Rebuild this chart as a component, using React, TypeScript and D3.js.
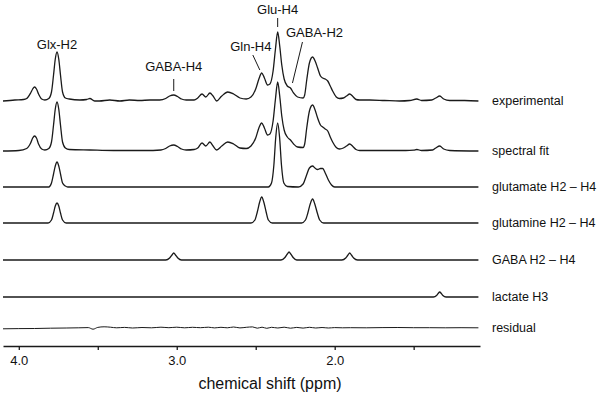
import React, { useEffect, useRef } from 'react';
import * as d3 from 'd3';

type Pt = [number, number];

// trace names, top to bottom
const traceNames = [
  'experimental',
  'spectral fit',
  'glutamate H2 \u2013 H4',
  'glutamine H2 \u2013 H4',
  'GABA H2 \u2013 H4',
  'lactate H3',
  'residual',
];

// [ppm, intensity]
const experimental: Pt[] = [
  [4.1, 0], [4.025, 1], [3.97, 1.5], [3.95, 2.5], [3.925, 8], [3.912, 12], [3.9, 14],
  [3.888, 12], [3.875, 7], [3.855, 2], [3.835, 1], [3.81, 2.5], [3.793, 9], [3.78, 26],
  [3.769, 42], [3.758, 49], [3.747, 42], [3.736, 26], [3.723, 9], [3.705, 3], [3.68, 2],
  [3.614, 1], [3.57, 1.5], [3.55, 2.5], [3.52, 0], [3.49, 0], [3.424, 1], [3.36, 0], [3.3, 1],
  [3.234, 0.5], [3.17, 1], [3.108, 1], [3.07, 2.5], [3.045, 5], [3.019, 6], [2.995, 4.5],
  [2.97, 2], [2.94, 1], [2.89, 1], [2.867, 3], [2.84, 7], [2.816, 4], [2.79, 8], [2.77, 5],
  [2.747, 0], [2.715, 5], [2.677, 9], [2.64, 7], [2.6, 3], [2.56, 2], [2.53, 4], [2.5, 12],
  [2.48, 22], [2.462, 28], [2.445, 23], [2.425, 16], [2.41, 17], [2.39, 30], [2.375, 52],
  [2.361, 69], [2.348, 55], [2.335, 36], [2.32, 22], [2.3, 15], [2.28, 13], [2.26, 8],
  [2.235, 4], [2.2, 3], [2.19, 6], [2.177, 21], [2.16, 38], [2.14, 44], [2.124, 40],
  [2.108, 33], [2.09, 25], [2.076, 23], [2.06, 22], [2.044, 20], [2.028, 15], [2.013, 10],
  [1.99, 4], [1.97, 2.5], [1.945, 3], [1.925, 5], [1.905, 7], [1.885, 4.5], [1.865, 1.5],
  [1.842, 1], [1.778, 1], [1.684, 0.5], [1.589, 0], [1.525, 0.5], [1.48, 2], [1.45, 0.5],
  [1.386, 1], [1.36, 3], [1.335, 5], [1.31, 2], [1.272, 0.5], [1.177, 0.5], [1.09, 0],
];

const spectralFit: Pt[] = [
  [4.1, 0], [4.0, 0.5], [3.95, 2.5], [3.925, 8], [3.912, 13], [3.9, 15], [3.888, 13],
  [3.875, 7], [3.855, 2], [3.835, 1], [3.81, 2.5], [3.793, 9], [3.78, 26], [3.769, 42],
  [3.758, 49], [3.747, 42], [3.736, 26], [3.723, 9], [3.705, 3], [3.68, 1.5], [3.55, 1],
  [3.4, 0.5], [3.2, 0.5], [3.1, 1], [3.07, 2.5], [3.045, 5], [3.019, 6], [2.995, 4.5],
  [2.97, 2], [2.94, 1], [2.89, 1.5], [2.867, 3], [2.84, 8], [2.816, 5], [2.79, 9], [2.77, 5],
  [2.747, 1], [2.715, 5], [2.677, 9], [2.64, 7], [2.6, 3], [2.56, 2.5], [2.53, 5], [2.5, 13],
  [2.48, 23], [2.462, 28], [2.445, 23], [2.425, 16], [2.41, 17], [2.39, 30], [2.375, 52],
  [2.361, 69], [2.348, 55], [2.335, 35], [2.32, 21], [2.3, 14], [2.28, 11], [2.26, 7],
  [2.235, 4], [2.2, 3.5], [2.19, 7], [2.177, 23], [2.16, 40], [2.14, 46], [2.124, 41],
  [2.108, 33], [2.09, 26], [2.076, 24], [2.06, 22], [2.044, 20], [2.028, 14], [2.013, 9],
  [1.99, 3.5], [1.97, 2], [1.945, 3], [1.925, 5], [1.905, 7], [1.885, 4.5], [1.865, 1.5],
  [1.842, 0.5], [1.7, 0.5], [1.55, 0.5], [1.5, 0.8], [1.48, 1.5], [1.45, 0.5], [1.38, 1],
  [1.36, 3], [1.335, 5], [1.31, 2], [1.272, 0.5], [1.09, 0],
];

const glutamate: Pt[] = [
  [4.1, 0], [3.81, 0], [3.793, 4], [3.78, 13], [3.769, 21], [3.758, 25], [3.747, 21],
  [3.736, 13], [3.723, 4], [3.705, 1], [3.69, 0], [2.42, 0], [2.4, 4], [2.385, 22],
  [2.373, 50], [2.361, 64], [2.349, 50], [2.337, 22], [2.322, 4], [2.3, 0.5], [2.23, 0],
  [2.2, 3], [2.18, 11], [2.16, 19], [2.14, 21], [2.125, 19], [2.108, 17.5], [2.09, 18.5],
  [2.076, 18.5], [2.06, 14], [2.04, 7], [2.02, 2], [2.0, 0], [1.09, 0],
];

const glutamine: Pt[] = [
  [4.1, 0], [3.815, 0], [3.793, 3], [3.78, 10], [3.769, 17], [3.758, 20], [3.747, 17],
  [3.736, 10], [3.723, 3], [3.7, 0], [2.53, 0], [2.505, 3], [2.49, 11], [2.475, 21],
  [2.462, 26], [2.449, 21], [2.434, 11], [2.42, 3], [2.395, 0], [2.21, 0], [2.185, 3],
  [2.17, 10], [2.155, 19], [2.14, 24], [2.126, 19], [2.11, 10], [2.095, 3], [2.07, 0],
  [1.09, 0],
];

const gaba: Pt[] = [
  [4.1, 0], [3.07, 0], [3.045, 2], [3.03, 5], [3.019, 7], [3.008, 5], [2.993, 2], [2.97, 0],
  [2.34, 0], [2.315, 2.5], [2.3, 6], [2.289, 8], [2.278, 6], [2.263, 2.5], [2.24, 0],
  [1.955, 0], [1.93, 2], [1.916, 5], [1.905, 7], [1.894, 5], [1.88, 2], [1.855, 0],
  [1.09, 0],
];

const lactate: Pt[] = [
  [4.1, 0], [1.375, 0], [1.355, 1.5], [1.345, 3.5], [1.335, 5], [1.325, 3.5], [1.315, 1.5],
  [1.295, 0], [1.09, 0],
];

const residual: Pt[] = [
  [4.1, -0.8], [4.0, -0.6], [3.9, -0.5], [3.8, -0.2], [3.7, 0], [3.62, 0.2], [3.56, 0.4],
  [3.53, -1.2], [3.5, 0.6], [3.46, 1.2], [3.42, 0.8], [3.38, 0.2], [3.33, 0.6], [3.28, 0],
  [3.22, 0.5], [3.16, 0.2], [3.1, 0.8], [3.05, 0.3], [3.0, 0.8], [2.95, 0.2], [2.9, 0.7],
  [2.85, 0.3], [2.8, 0.8], [2.76, 0.1], [2.72, 0.7], [2.68, 0.2], [2.64, 1], [2.6, 0.1],
  [2.56, 0.7], [2.52, 1.1], [2.49, -0.2], [2.46, 0.8], [2.43, -0.3], [2.4, 0.7], [2.36, 0],
  [2.32, 0.8], [2.28, -0.2], [2.24, 0.6], [2.2, -0.1], [2.16, 0.7], [2.12, 0], [2.08, 0.5],
  [2.04, 0], [2.0, 0.4], [1.95, 0.2], [1.9, 0.3], [1.8, 0.2], [1.7, 0.4], [1.6, 0.5],
  [1.5, 0.3], [1.4, 0.3], [1.3, 0.2], [1.2, 0.3], [1.09, 0.2],
];

const traces = [experimental, spectralFit, glutamate, glutamine, gaba, lactate, residual];

const tickValues = [4.0, 3.5, 3.0, 2.5, 2.0, 1.5];
const tickLabels = ['4.0', '', '3.0', '', '2.0', ''];

// peak annotations: label, ppm of the peak
const annotations = ['Glx-H2', 'GABA-H4', 'Gln-H4', 'Glu-H4', 'GABA-H2'];
const annotationPpm = [3.758, 3.019, 2.455, 2.361, 2.28];

const App = () => {
  const ref = useRef<SVGSVGElement>(null);

  useEffect(() => {
    const svg = d3.select(ref.current);
    svg.selectAll('*').remove();
    const font = 'Liberation Sans, Arial, sans-serif';

    const x = d3.scaleLinear().domain([4.1, 1.08]).range([3, 480]);
    const y = d3.scaleLinear().domain([0, 100]).range([0, -100]);
    const baselines = [101, 151, 187, 223, 260, 297, 328];

    traces.forEach((data, i) => {
      const line = d3.line<Pt>()
        .x(d => x(d[0]))
        .y(d => baselines[i] + y(d[1]))
        .curve(d3.curveMonotoneX);
      svg.append('path')
        .datum(data)
        .attr('fill', 'none')
        .attr('stroke', '#1a1a1a')
        .attr('stroke-width', i === 6 ? 1 : 1.3)
        .attr('stroke-linejoin', 'round')
        .attr('d', line);
      svg.append('text')
        .attr('x', 492)
        .attr('y', baselines[i])
        .attr('dy', '0.35em')
        .attr('font-family', font)
        .attr('font-size', 12.5)
        .attr('fill', '#111')
        .text(traceNames[i]);
    });

    // axis
    const axis = d3.axisBottom(x)
      .tickValues(tickValues)
      .tickSize(4)
      .tickSizeOuter(0)
      .tickPadding(6)
      .tickFormat((_, i) => tickLabels[i]);
    const g = svg.append('g').attr('transform', 'translate(0,346)').call(axis);
    g.select('.domain').attr('stroke', '#1a1a1a').attr('stroke-width', 1.3);
    g.selectAll('.tick line').attr('stroke', '#1a1a1a').attr('stroke-width', 1.3);
    g.selectAll('.tick text')
      .attr('font-family', font)
      .attr('font-size', 13)
      .attr('fill', '#111');

    svg.append('text')
      .attr('x', 270)
      .attr('y', 389)
      .attr('text-anchor', 'middle')
      .attr('font-family', font)
      .attr('font-size', 16)
      .attr('fill', '#111')
      .text('chemical shift (ppm)');

    // annotation labels with leader lines
    const label = (t: string, cx: number, by: number) =>
      svg.append('text')
        .attr('x', cx)
        .attr('y', by)
        .attr('text-anchor', 'middle')
        .attr('font-family', font)
        .attr('font-size', 13)
        .attr('fill', '#111')
        .text(t);
    const lead = (x1: number, y1: number, x2: number, y2: number) =>
      svg.append('line')
        .attr('x1', x1).attr('y1', y1).attr('x2', x2).attr('y2', y2)
        .attr('stroke', '#1a1a1a').attr('stroke-width', 1);

    const px = annotationPpm.map(p => x(p));
    label(annotations[0], px[0], 49);
    label(annotations[1], px[1], 71);
    lead(px[1], 79, px[1], 91);
    label(annotations[2], px[2] - 12, 51);
    lead(px[2] - 10, 55, px[2] - 3, 70);
    label(annotations[3], px[3], 14);
    lead(px[3], 18, px[3], 27);
    label(annotations[4], px[4] + 24, 37);
    lead(px[4] + 12, 42, px[4] + 2, 83);
  }, []);

  return (
    <svg
      ref={ref}
      width={600}
      height={401}
      style={{ position: 'absolute', left: 0, top: 0, background: '#fff' }}
    />
  );
};

export default App;
